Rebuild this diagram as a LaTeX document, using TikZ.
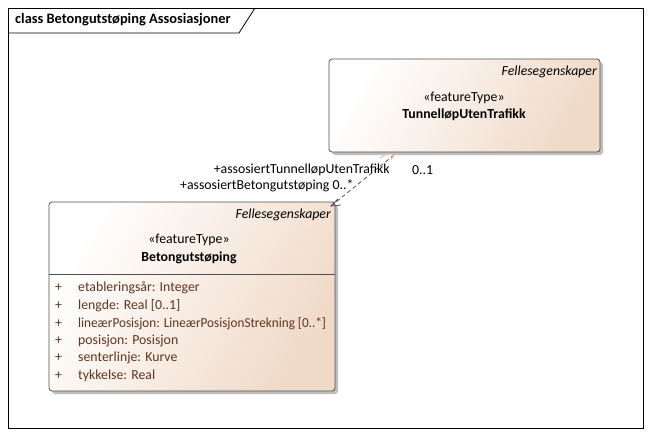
\documentclass[tikz,border=0pt]{standalone}
\usepackage{fontspec}
\setmainfont{Carlito}
\usetikzlibrary{arrows.meta}
\definecolor{peach}{RGB}{240,218,200}
\definecolor{attr}{RGB}{96,52,30}
\definecolor{edge}{RGB}{80,80,80}
\definecolor{shadowc}{RGB}{190,190,190}
\begin{document}
\begin{tikzpicture}[x=1pt,y=-1pt,
  classbox/.style={draw=edge,line width=0.8pt,rounded corners=3pt,
    left color=white,right color=peach,shading angle=60},
  shadowbox/.style={fill=shadowc,rounded corners=3pt},
  lbl/.style={inner sep=0pt,font=\fontsize{13.8}{15}\selectfont},
  attrtext/.style={lbl,text=attr,anchor=west},
  assoc/.style={draw=edge,line width=0.8pt,dash pattern=on 4pt off 3pt}]
\useasboundingbox (0,0) rectangle (651,437);
\fill[white] (0,0) rectangle (651,437);
% diagram frame and its title tab
\draw[line width=0.8pt] (8,8) rectangle (643,428);
\draw[line width=0.8pt] (8,33) -- (239,33) -- (255,8);
\node[lbl,anchor=west,font=\fontsize{14.4}{16}\selectfont\bfseries] (title) at (15,20) {class Betongutstøping Assosiasjoner};

% TunnelløpUtenTrafikk
\fill[shadowbox] (332,62) rectangle (603,155);
\path[classbox] (329,59) rectangle (600,152);
\node[lbl,anchor=east,font=\fontsize{13.8}{15}\selectfont\itshape] (tutfelles) at (597,72) {Fellesegenskaper};
\node[lbl] (tutstereo) at (464,98) {«featureType»};
\node[lbl,font=\fontsize{13.8}{15}\selectfont\bfseries] (tutname) at (464,115) {TunnelløpUtenTrafikk};

% Betongutstøping
\fill[shadowbox] (52,205) rectangle (338,394);
\path[classbox] (49,202) rectangle (335,391);
\draw[edge,line width=0.8pt] (49,274) -- (335,274);
\node[lbl,anchor=east,font=\fontsize{13.8}{15}\selectfont\itshape] (betfelles) at (331,215) {Fellesegenskaper};
\node[lbl] (betstereo) at (189,240) {«featureType»};
\node[lbl,font=\fontsize{13.8}{15}\selectfont\bfseries] (betname) at (189,258) {Betongutstøping};

\foreach \y/\t [count=\i] in {288/{etableringsår: Integer},
    306/{lengde: Real [0..1]},
    324/{\scalebox{0.955}[1]{lineærPosisjon: LineærPosisjonStrekning [0..*]}},
    341/{posisjon: Posisjon},
    358/{senterlinje: Kurve},
    376/{tykkelse: Real}}{
  \node[attrtext] (vis\i) at (55,\y) {+};
  \node[attrtext] (attr\i) at (78,\y) {\t};
}

% association between the two classes
\coordinate (endtop) at (394,155);
\coordinate (endbot) at (331,206);
\draw[assoc] (endtop) -- (endbot);
\draw[edge,line width=0.8pt] (338,199) -- (331,206) -- (341,205);
\draw[peach!80!brown,line width=1.2pt] (380,158) .. controls (386,154) .. (394,155) -- (391,160);

\node[lbl,anchor=east] (roletut) at (390,170) {+assosiertTunnelløpUtenTrafikk};
\node[lbl,anchor=west] (multtut) at (412,170) {0..1};
\node[lbl,anchor=west] (rolebet) at (180,186) {+assosiertBetongutstøping 0..*};
\end{tikzpicture}
\end{document}
